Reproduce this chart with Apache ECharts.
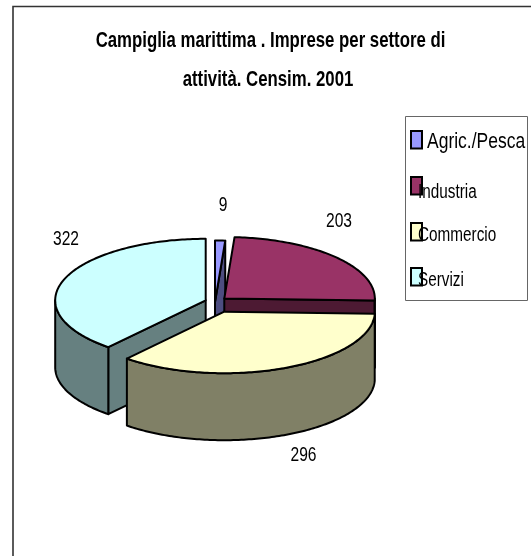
<!DOCTYPE html>
<html><head><meta charset="utf-8">
<style>html,body{margin:0;padding:0;background:#fff}#c{width:531px;height:556px}</style>
<script src="https://cdn.jsdelivr.net/npm/echarts@6/dist/echarts.min.js"></script>
</head><body><div id="c"></div>
<script>
const categories = ['Agric./Pesca', 'Industria', 'Commercio', 'Servizi'];
const values = [9, 203, 296, 322];
const titleLines = ['Campiglia marittima . Imprese per settore di', 'attività. Censim. 2001'];

const topColors = ['#9999FF', '#993366', '#FFFFCC', '#CCFFFF'];
const sideColors = ['#4D4D80', '#4D1A33', '#808066', '#668080'];
const sliceCenters = [[215, 302], [224.3, 298.5], [224.3, 311.7], [205.7, 300.3]];
const labelPos = [[223, 205], [339, 221], [303.5, 455], [66, 239]];
const legendRows = [{ y: 141.5, sy: 131, tx: 427 }, { y: 192, sy: 177, tx: 418 }, { y: 235.5, sy: 223, tx: 418 }, { y: 280, sy: 268, tx: 418 }];
const RX = 150.5, RY = 61.5, DEPTH = 67, SW = 2, FONT = 'Liberation Sans';

const total = values.reduce((a, b) => a + b, 0);
const angles = []; let acc = 0;
values.forEach(v => { angles.push([acc / total * 360, (acc + v) / total * 360]); acc += v; });
const rad = d => d * Math.PI / 180;
const rim = (c, a, dy) => [c[0] + RX * Math.sin(rad(a)), c[1] - RY * Math.cos(rad(a)) + (dy || 0)];
const arc = (c, a0, a1, dy) => { const p = [], n = Math.max(1, Math.ceil(Math.abs(a1 - a0))); for (let i = 0; i <= n; i++) p.push(rim(c, a0 + (a1 - a0) * i / n, dy)); return p; };

function renderItem(params, api) {
  const i = api.value(0), [a0, a1] = angles[i], c = sliceCenters[i];
  const mid = (a0 + a1) / 2, z = 10 + Math.round(180 - Math.abs(mid - 180));
  const face = (pts, fill, off) => ({ type: 'polygon', z2: z + off, shape: { points: pts },
    style: { fill, stroke: '#000', lineWidth: SW, lineJoin: 'round' } });
  const kids = [];
  const c2 = [c[0], c[1] + DEPTH];
  // start radial wall faces the viewer only past 180 deg, end wall only before it
  if (a0 > 180) kids.push(face([c, rim(c, a0), rim(c, a0, DEPTH), c2], sideColors[i], 0));
  if (a1 < 180) kids.push(face([c, rim(c, a1), rim(c, a1, DEPTH), c2], sideColors[i], 0));
  const r0 = Math.max(a0, 90), r1 = Math.min(a1, 270);
  if (r1 > r0) kids.push(face(arc(c, r0, r1).concat(arc(c, r1, r0, DEPTH)), sideColors[i], 1));
  kids.push(face([c].concat(arc(c, a0, a1)), topColors[i], 2));
  // value label
  kids.push({ type: 'text', z2: 300, x: labelPos[i][0], y: labelPos[i][1], scaleY: 1.35,
    style: { text: String(values[i]), font: '15.6px "' + FONT + '"', fill: '#000', align: 'center', verticalAlign: 'middle' } });
  // legend entry
  const r = legendRows[i];
  kids.push({ type: 'rect', z2: 300, shape: { x: 411, y: r.sy, width: 11, height: 17.5 },
    style: { fill: topColors[i], stroke: '#000', lineWidth: SW } });
  kids.push({ type: 'text', z2: 301, x: r.tx, y: r.y, scaleY: i === 0 ? 1.3 : 1.36,
    style: { text: categories[i], font: (i === 0 ? 17.5 : 15.3) + 'px "' + FONT + '"', fill: '#000', align: 'left', verticalAlign: 'middle' } });
  return { type: 'group', children: kids };
}

const chart = echarts.init(document.getElementById('c'), null, { renderer: 'canvas' });
chart.setOption({
  animation: false,
  backgroundColor: '#fff',
  graphic: [
    { type: 'polyline', shape: { points: [[13, 556], [13, 6.5], [531, 6.5]] }, style: { fill: 'none', stroke: '#333', lineWidth: 1.6 } },
    { type: 'rect', shape: { x: 405.5, y: 116.5, width: 122, height: 184 }, style: { fill: '#fff', stroke: '#666', lineWidth: 1 } },
    { type: 'text', x: 270.5, y: 41, scaleY: 1.33, style: { text: titleLines[0], font: 'bold 16.8px "' + FONT + '"', fill: '#000', align: 'center', verticalAlign: 'middle' } },
    { type: 'text', x: 268, y: 80, scaleY: 1.33, style: { text: titleLines[1], font: 'bold 16.8px "' + FONT + '"', fill: '#000', align: 'center', verticalAlign: 'middle' } }
  ],
  series: [{
    type: 'custom', coordinateSystem: 'none', silent: true, clip: false,
    renderItem,
    data: values.map((v, i) => ({ name: categories[i], value: [i, v] }))
  }]
});
</script></body></html>
